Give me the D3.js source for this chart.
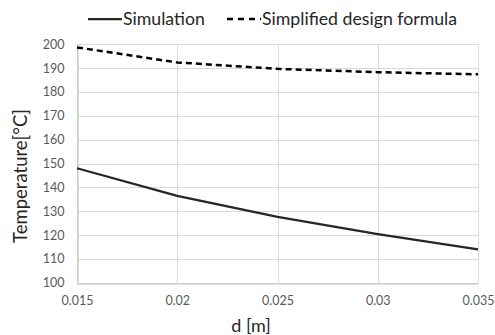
<!DOCTYPE html>
<html><head><meta charset="utf-8">
<script src="https://cdn.jsdelivr.net/npm/d3@7"></script>
<style>body{margin:0;background:#fff}svg{display:block}text{font-family:Lato,"Open Sans",sans-serif}</style>
</head><body>
<script>
const dValues = [0.015, 0.02, 0.025, 0.03, 0.035];
const simulation = [148.0, 136.4, 127.6, 120.4, 114.0];
const simplified = [198.7, 192.4, 189.7, 188.3, 187.4];
const xTicks = [0.015, 0.02, 0.025, 0.03, 0.035];
const yTicks = [100, 110, 120, 130, 140, 150, 160, 170, 180, 190, 200];
const seriesNames = ["Simulation", "Simplified design formula"];

const W = 495, H = 335;
const m = {left: 77, right: 17, top: 44.3, bottom: 52.3};
const svg = d3.select("body").append("svg").attr("width", W).attr("height", H);
const x = d3.scaleLinear().domain([0.015, 0.035]).range([m.left, W - m.right]);
const y = d3.scaleLinear().domain([100, 200]).range([H - m.bottom, m.top]);

// gridlines
svg.append("g").selectAll("line.h").data(yTicks).join("line")
  .attr("x1", x(0.015)).attr("x2", x(0.035))
  .attr("y1", d => Math.round(y(d)) + 0.5).attr("y2", d => Math.round(y(d)) + 0.5)
  .attr("stroke", "#d9d9d9").attr("stroke-width", 1);
svg.append("g").selectAll("line.v").data(xTicks).join("line")
  .attr("y1", y(100)).attr("y2", y(200))
  .attr("x1", d => Math.round(x(d)) + 0.5).attr("x2", d => Math.round(x(d)) + 0.5)
  .attr("stroke", "#d9d9d9").attr("stroke-width", 1);

// axes
const xAxis = d3.axisBottom(x).tickValues(xTicks).tickSize(0).tickPadding(13).tickFormat(d => String(+d.toFixed(3)));
const gx = svg.append("g").attr("transform", `translate(0,${Math.round(y(100)) + 0.5})`).call(xAxis);
gx.select(".domain").attr("stroke", "#bfbfbf");
gx.selectAll("text").attr("fill", "#595959").attr("font-size", 12.5);

const yAxis = d3.axisLeft(y).tickValues(yTicks).tickSize(0).tickPadding(13).tickFormat(d3.format("d"));
const gy = svg.append("g").attr("transform", `translate(${Math.round(x(0.015)) + 0.5},0)`).call(yAxis);
gy.select(".domain").attr("stroke", "#bfbfbf");
gy.selectAll("text").attr("fill", "#595959").attr("font-size", 12.5);

// lines
const line = vals => d3.line().x((d, i) => x(dValues[i])).y(d => y(d))(vals);
svg.append("path").attr("d", line(simulation)).attr("fill", "none")
  .attr("stroke", "#262626").attr("stroke-width", 2.25).attr("stroke-linejoin", "round");
svg.append("path").attr("d", line(simplified)).attr("fill", "none")
  .attr("stroke", "#000").attr("stroke-width", 2.5).attr("stroke-dasharray", "6,4");

// axis titles
svg.append("text").attr("x", 251).attr("y", 332).attr("text-anchor", "middle")
  .attr("font-size", 18).attr("fill", "#262626").text("d [m]");
svg.append("text").attr("transform", `translate(27,176) rotate(-90)`)
  .attr("text-anchor", "middle").attr("font-size", 18.5).attr("fill", "#262626").text("Temperature[°C]");

// legend
const lg = svg.append("g");
lg.append("line").attr("x1", 88).attr("x2", 122).attr("y1", 19).attr("y2", 19)
  .attr("stroke", "#262626").attr("stroke-width", 2.25);
lg.append("text").attr("x", 123).attr("y", 25).attr("font-size", 17.7).attr("fill", "#262626").text(seriesNames[0]);
lg.append("line").attr("x1", 227).attr("x2", 261).attr("y1", 19).attr("y2", 19)
  .attr("stroke", "#000").attr("stroke-width", 2.5).attr("stroke-dasharray", "6,5");
lg.append("text").attr("x", 262).attr("y", 25).attr("font-size", 17.7).attr("fill", "#262626").text(seriesNames[1]);
</script>
</body></html>
